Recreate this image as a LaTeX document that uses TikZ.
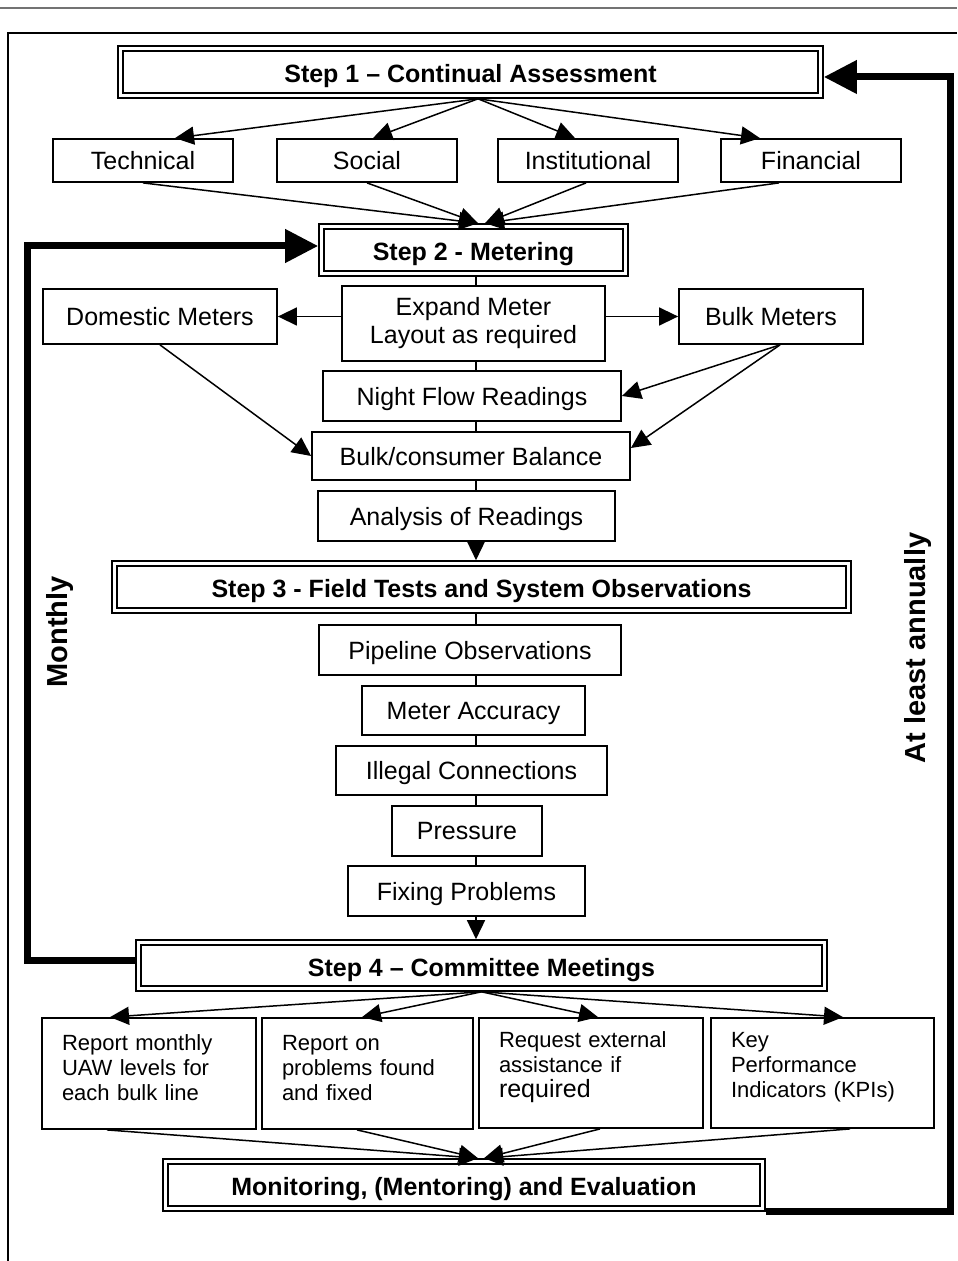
\documentclass[tikz,border=0pt]{standalone}
\usepackage{fontspec}
\setmainfont{Liberation Sans}
\usetikzlibrary{arrows.meta,calc}

\tikzset{
  itembox/.style={draw, line width=0.9pt, inner sep=0pt, text depth=0pt},
  twobox/.style={draw, line width=0.9pt, inner sep=0pt, align=center},
  stepbox/.style={draw, line width=0.8pt, inner sep=0pt, text height=10.5pt, text depth=0pt,
    font=\fontsize{12.5}{14}\selectfont\bfseries,
    path picture={\draw[line width=1.3pt]
      ([shift={(2.5pt,2.5pt)}]path picture bounding box.south west) rectangle
      ([shift={(-2.5pt,-2.5pt)}]path picture bounding box.north east);}},
  repbox/.style={draw, line width=0.9pt, align=left, inner xsep=10pt, inner ysep=0pt,
    minimum height=55.5pt, font=\fontsize{11}{12.5}\selectfont,
    execute at end node={\par\vspace*{5.5pt}}},
  link/.style={line width=0.75pt, -{Triangle[length=9.5pt,width=9pt]}},
  spineline/.style={line width=0.75pt},
  loopline/.style={line width=3.5pt, -{Triangle[length=16.5pt,width=16pt]}},
  looplabel/.style={rotate=90, font=\fontsize{14.5}{16}\selectfont\bfseries}
}

\begin{document}
\begin{tikzpicture}[x=0.5pt, y=-0.5pt, every node/.style={font=\fontsize{12.5}{14}\selectfont}]
  \useasboundingbox (0,0) rectangle (957,1261);

  % page rule and frame
  \draw[black!55, line width=1pt] (0,8) -- (957,8);
  \draw[line width=1pt] (8,1261) -- (8,33) -- (957,33);

  % Step 1
  \node[stepbox, minimum width=352.5pt, minimum height=26pt] (step1) at (470.5,72) {Step 1 -- Continual Assessment};
  \node[itembox, minimum width=90pt, minimum height=21.5pt] (tech) at (143,160.5) {Technical};
  \node[itembox, minimum width=90pt, minimum height=21.5pt] (social) at (367,160.5) {Social};
  \node[itembox, minimum width=90pt, minimum height=21.5pt] (inst) at (588,160.5) {Institutional};
  \node[itembox, minimum width=90pt, minimum height=21.5pt] (fin) at (811,160.5) {Financial};

  % Step 2
  \node[stepbox, minimum width=154.5pt, minimum height=26pt] (step2) at (473.5,250) {Step 2 - Metering};
  \node[twobox, minimum width=131.5pt, minimum height=37.5pt] (expand) at (473.5,323.5) {Expand Meter\\Layout as required};
  \node[itembox, minimum width=117pt, minimum height=27.5pt] (domestic) at (160,316.5) {Domestic Meters};
  \node[itembox, minimum width=92pt, minimum height=27.5pt] (bulk) at (771,316.5) {Bulk Meters};
  \node[itembox, minimum width=149pt, minimum height=25pt] (night) at (472,396) {Night Flow Readings};
  \node[itembox, minimum width=159pt, minimum height=24pt] (balance) at (471,456) {Bulk/consumer Balance};
  \node[itembox, minimum width=148.5pt, minimum height=25pt] (analysis) at (466.5,516) {Analysis of Readings};

  % Step 3
  \node[stepbox, minimum width=369.5pt, minimum height=26pt] (step3) at (481.5,587) {Step 3 - Field Tests and System Observations};
  \node[itembox, minimum width=151pt, minimum height=25pt] (pipeline) at (470,650) {Pipeline Observations};
  \node[itembox, minimum width=111.5pt, minimum height=24.5pt] (accuracy) at (473.5,710.5) {Meter Accuracy};
  \node[itembox, minimum width=135.5pt, minimum height=24.5pt] (illegal) at (471.5,770.5) {Illegal Connections};
  \node[itembox, minimum width=75pt, minimum height=25pt] (pressure) at (467,831) {Pressure};
  \node[itembox, minimum width=118.5pt, minimum height=25pt] (fixing) at (466.5,891) {Fixing Problems};

  % Step 4
  \node[stepbox, minimum width=345.5pt, minimum height=25.5pt] (step4) at (481.5,965.5) {Step 4 -- Committee Meetings};
  \node[repbox, text width=87pt] (rep1) at (149,1073.5) {Report monthly\\UAW levels for\\each bulk line};
  \node[repbox, text width=85.5pt] (rep2) at (367.5,1073.5) {Report on\\problems found\\and fixed};
  \node[repbox, text width=92pt, minimum height=55pt] (rep3) at (591,1073) {Request external\\assistance if\\{\fontsize{12.5}{12.5}\selectfont required}};
  \node[repbox, text width=91.5pt, minimum height=55pt] (rep4) at (822.5,1073) {Key\\Performance\\Indicators (KPIs)};
  \node[stepbox, minimum width=301pt, minimum height=26pt] (monitor) at (464,1185) {Monitoring, (Mentoring) and Evaluation};

  % Arrows of step 1
  \foreach \dest/\dx in {tech/16pt, social/3pt, inst/-6.5pt, fin/-25.5pt}
    \draw[link] ([xshift=3.75pt]step1.south) -- ([xshift=\dx]\dest.north);
  \foreach \src/\sx/\tx in {tech/0pt/2.25pt, social/0pt/2.25pt, inst/-1pt/5.75pt, fin/-16pt/5.75pt}
    \draw[link] ([xshift=\sx]\src.south) -- ([xshift=\tx]step2.north);

  % Metering arrows
  \draw[link] (expand.west |- domestic.east) -- (domestic.east);
  \draw[link] (expand.east |- bulk.west) -- (bulk.west);
  \draw[link] (domestic.south) -- (balance.west);
  \draw[link] ([xshift=4.5pt]bulk.south) -- (night.east);
  \draw[link] ([xshift=4.5pt]bulk.south) -- ([yshift=4pt]balance.east);

  % Central spine
  \coordinate (spine) at (476,0);
  \foreach \a/\b in {step2/expand, expand/night, night/balance, balance/analysis,
      step3/pipeline, pipeline/accuracy, accuracy/illegal, illegal/pressure, pressure/fixing}
    \draw[spineline] (\a.south -| spine) -- (\b.north -| spine);
  \draw[link] (analysis.south -| spine) -- (step3.north -| spine);
  \draw[link] (fixing.south -| spine) -- (step4.north -| spine);

  % Arrows of step 4
  \foreach \dest/\dx in {rep1/-19.5pt, rep2/-2.75pt, rep3/3.5pt, rep4/10.25pt}
    \draw[link] (step4.south) -- ([xshift=\dx]\dest.north);
  \foreach \src/\sx/\tx in {rep1/-21pt/7pt, rep2/-5.25pt/7pt, rep3/4.5pt/10pt, rep4/13.75pt/10pt}
    \draw[link] ([xshift=\sx]\src.south) -- ([xshift=\tx]monitor.north);

  % Feedback loops
  \coordinate (monthrail) at (27,600);
  \coordinate (yearrail) at (950,600);
  \draw[loopline] ([yshift=2.75pt]step4.west) -| (monthrail) |- ([yshift=2pt]step2.west);
  \draw[loopline] (monitor.south east) -| (yearrail) |- ([yshift=-2.5pt]step1.east);
  \node[looplabel] (monthly) at (60,632) {Monthly};
  \node[looplabel] (annually) at (918,648) {At least annually};
\end{tikzpicture}
\end{document}
